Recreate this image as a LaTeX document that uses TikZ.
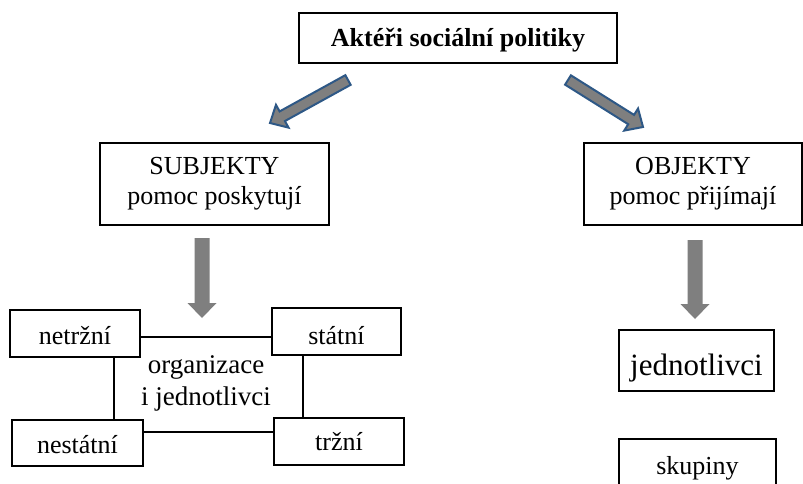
\documentclass[tikz,border=0pt]{standalone}
\usepackage{fontspec}
\setmainfont{Liberation Serif}
\usetikzlibrary{calc}
\definecolor{arrgray}{RGB}{127,127,127}
\definecolor{arrblue}{RGB}{46,88,134}
\newcommand\fatarrow[6]{%
  \coordinate (fah) at ($(#3)!#6!(#2)$);
  \path[#1] ($(#2)!#4!90:(#3)$) -- ($(fah)!#4!90:(#3)$) -- ($(fah)!#5!90:(#3)$)
    -- (#3) -- ($(fah)!#5!-90:(#3)$) -- ($(fah)!#4!-90:(#3)$) -- ($(#2)!#4!-90:(#3)$) -- cycle;
}
\begin{document}
\begin{tikzpicture}[x=1pt,y=-1pt,
  box/.style={draw, line width=1.5pt, inner sep=0pt, align=center,
    font=\fontsize{26}{30}\selectfont},
  sbox/.style={box, text depth=0pt, text height=#1},
  conn/.style={line width=1.5pt},
  diag/.style={fill=arrgray, draw=arrblue, line width=2pt, line join=miter},
  down/.style={fill=arrgray}]
\useasboundingbox (0,0) rectangle (803,484);
\clip (0,0) rectangle (803,484);
\fill[white] (0,0) rectangle (803,484);

\node[sbox=18pt, line width=1.8pt, minimum width=318pt, minimum height=50pt,
  font=\bfseries\fontsize{26}{30}\selectfont] (top) at (458,38) {Aktéři sociální politiky};
\node[box, minimum width=229pt, minimum height=82pt] (sub) at (214.5,184) {SUBJEKTY\\pomoc poskytují};
\node[box, minimum width=218pt, minimum height=82pt] (obj) at (693,184) {OBJEKTY\\pomoc přijímají};

\node[sbox=21pt, minimum width=130pt, minimum height=47pt] (net) at (75,333.5) {netržní};
\node[sbox=25pt, minimum width=129pt, minimum height=47pt] (stat) at (336.5,331.5) {státní};
\node[sbox=20pt, minimum width=131pt, minimum height=46pt] (nes) at (77.5,443) {nestátní};
\node[sbox=17pt, minimum width=130pt, minimum height=47pt] (trz) at (339,441.5) {tržní};
\node[align=center, inner sep=0pt, font=\fontsize{27}{32}\selectfont] (org) at (206,383) {organizace\\i jednotlivci};

\node[sbox=29pt, minimum width=155pt, minimum height=61pt, font=\fontsize{31}{36}\selectfont] (jed) at (696.5,360.5) {jednotlivci};
\node[sbox=9pt, minimum width=157pt, minimum height=61pt] (sku) at (697.5,469.5) {skupiny};

\coordinate (ytop) at (0,337);
\coordinate (ybot) at (0,432);
\coordinate (xl) at (114,0);
\coordinate (xr) at (303,0);
\draw[conn] (net.east |- ytop) -- (stat.west |- ytop);
\draw[conn] (nes.east |- ybot) -- (trz.west |- ybot);
\draw[conn] (net.south -| xl) -- (nes.north -| xl);
\draw[conn] (stat.south -| xr) -- (trz.north -| xr);

\fatarrow{diag}{348,80}{270,123}{5.5pt}{13pt}{14pt}
\fatarrow{diag}{568,80}{643,127}{5.5pt}{13pt}{14pt}
\fatarrow{down}{202,238}{202,318}{7.5pt}{14.5pt}{15pt}
\fatarrow{down}{695,240}{695,319}{7.5pt}{14.5pt}{15pt}
\end{tikzpicture}
\end{document}
